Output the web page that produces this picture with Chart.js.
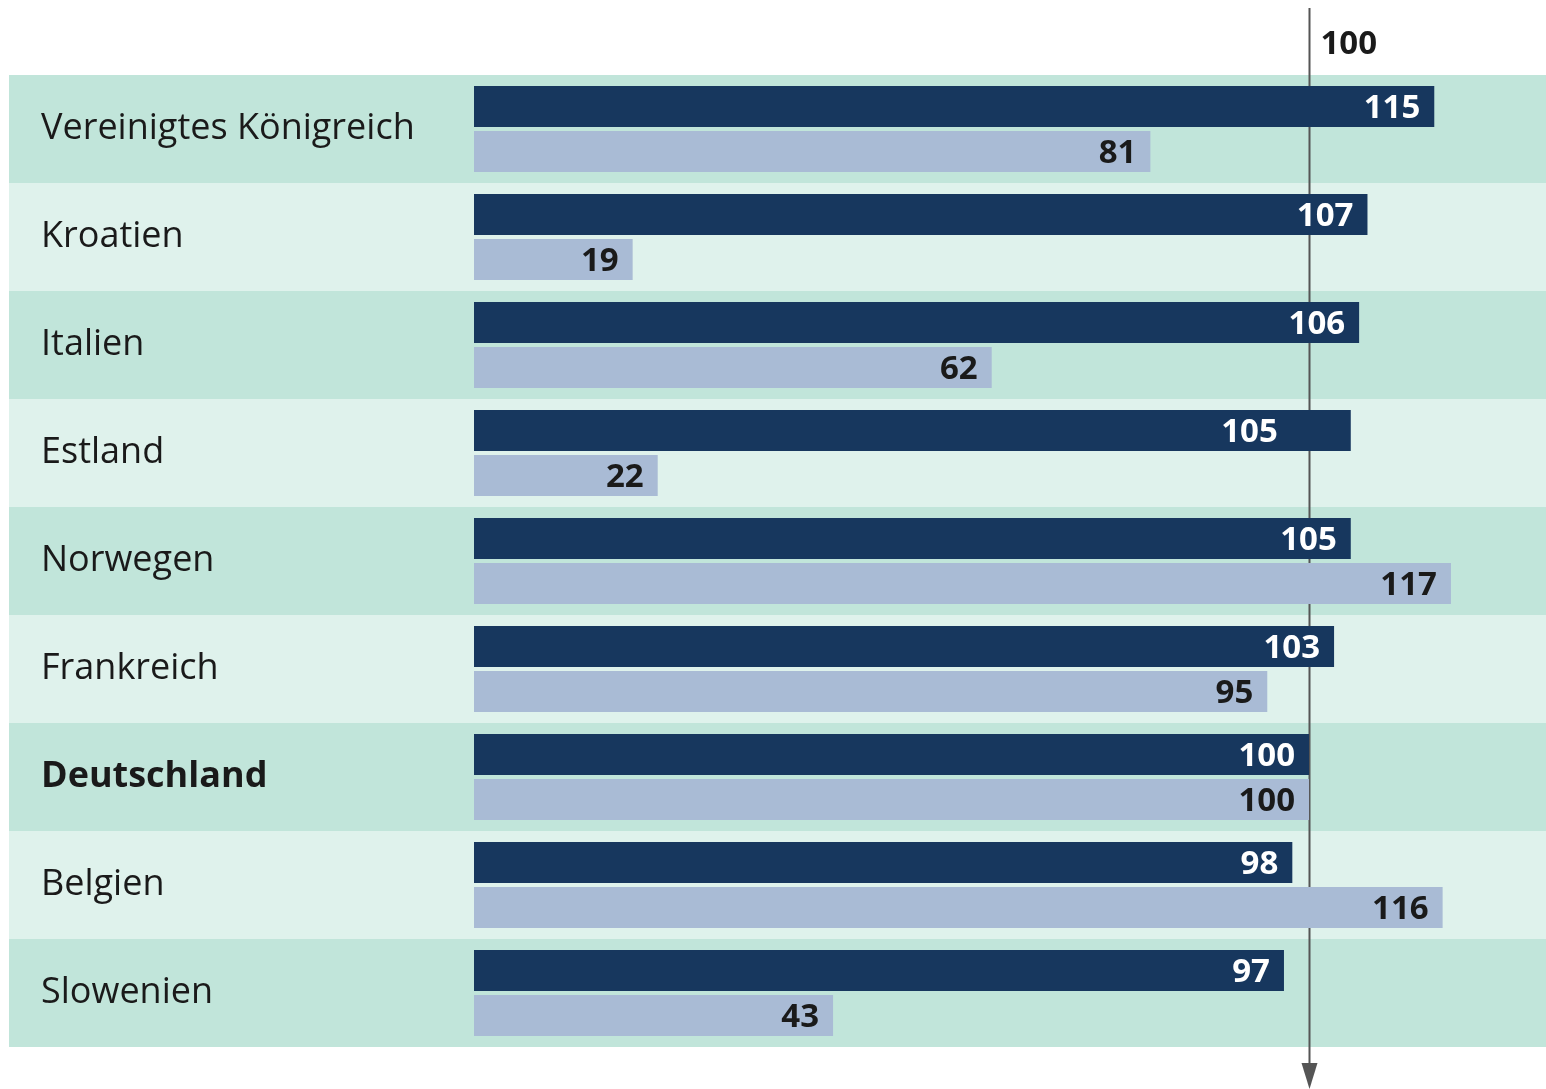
<!DOCTYPE html>
<html>
<head>
<meta charset="utf-8">
<script src="https://cdn.jsdelivr.net/npm/chart.js@4"></script>
<style>
  html, body { margin: 0; padding: 0; background: #fff; }
  #wrap { width: 1546px; height: 1089px; position: relative; }
</style>
</head>
<body>
<div id="wrap"><canvas id="chart"></canvas></div>
<script>
const countries = ['Vereinigtes Königreich', 'Kroatien', 'Italien', 'Estland', 'Norwegen', 'Frankreich', 'Deutschland', 'Belgien', 'Slowenien'];
const darkValues = [115, 107, 106, 105, 105, 103, 100, 98, 97];
const lightValues = [81, 19, 62, 22, 117, 95, 100, 116, 43];
const refValue = 100;

const FONT = '"Open Sans", "Noto Sans", sans-serif';

// alternating row backgrounds across full width
const rowBands = {
    id: 'rowBands',
    beforeDraw(chart) {
        const { ctx, chartArea } = chart;
        const step = (chartArea.bottom - chartArea.top) / countries.length;
        ctx.save();
        countries.forEach((c, i) => {
            ctx.fillStyle = i % 2 === 0 ? '#c1e5da' : '#dff2ec';
            ctx.fillRect(9, chartArea.top + i * step, chart.width - 9, step);
        });
        ctx.restore();
    }
};

// reference line behind the bars, value labels on top
const overlay = {
    id: 'overlay',
    beforeDatasetsDraw(chart) {
        const { ctx, scales: { x } } = chart;
        const lx = Math.round(x.getPixelForValue(refValue)) + 0.5;
        ctx.save();
        ctx.strokeStyle = '#555555';
        ctx.lineWidth = 2;
        ctx.beginPath();
        ctx.moveTo(lx, 8);
        ctx.lineTo(lx, 1066);
        ctx.stroke();
        ctx.fillStyle = '#555555';
        ctx.beginPath();
        ctx.moveTo(lx - 8, 1063);
        ctx.lineTo(lx + 8, 1063);
        ctx.lineTo(lx, 1089);
        ctx.closePath();
        ctx.fill();

        ctx.fillStyle = '#1a1a1a';
        ctx.textAlign = 'left';
        ctx.textBaseline = 'middle';
        ctx.font = 'bold 33px ' + FONT;
        ctx.fillText(String(refValue), lx + 11, 45);
        ctx.restore();
    },
    afterDatasetsDraw(chart) {
        const { ctx } = chart;
        ctx.save();
        ctx.font = 'bold 33px ' + FONT;
        ctx.textAlign = 'right';
        ctx.textBaseline = 'middle';
        chart.data.datasets.forEach((ds, di) => {
            chart.getDatasetMeta(di).data.forEach((bar, i) => {
                ctx.fillStyle = di === 0 ? '#ffffff' : '#1a1a1a';
                let xr = bar.x - 14;
                if (di === 0 && countries[i] === 'Estland') xr -= 59;
                ctx.fillText(ds.data[i], xr, bar.y + 2);
            });
        });
        ctx.restore();
    }
};

new Chart(document.getElementById('chart'), {
    type: 'bar',
    data: {
        labels: countries,
        datasets: [
            {
                data: darkValues,
                backgroundColor: '#17375e',
                borderWidth: 0,
                categoryPercentage: 0.8333,
                barPercentage: 0.911
            },
            {
                data: lightValues,
                backgroundColor: '#a9bbd5',
                borderWidth: 0,
                categoryPercentage: 0.8333,
                barPercentage: 0.911
            }
        ]
    },
    options: {
        indexAxis: 'y',
        responsive: true,
        maintainAspectRatio: false,
        animation: false,
        layout: {
            padding: { top: 75, bottom: 42, left: 41, right: 0 }
        },
        plugins: {
            legend: { display: false },
            tooltip: { enabled: false }
        },
        scales: {
            x: {
                display: false,
                min: 0,
                max: 128.38
            },
            y: {
                grid: { display: false },
                border: { display: false },
                afterFit(scale) { scale.width = 433; },
                ticks: {
                    crossAlign: 'far',
                    padding: 0,
                    color: '#1a1a1a',
                    font: ctx => ({
                        family: FONT,
                        size: 36,
                        weight: ctx.index === 6 ? 'bold' : 'normal'
                    })
                }
            }
        }
    },
    plugins: [rowBands, overlay]
});
</script>
</body>
</html>
